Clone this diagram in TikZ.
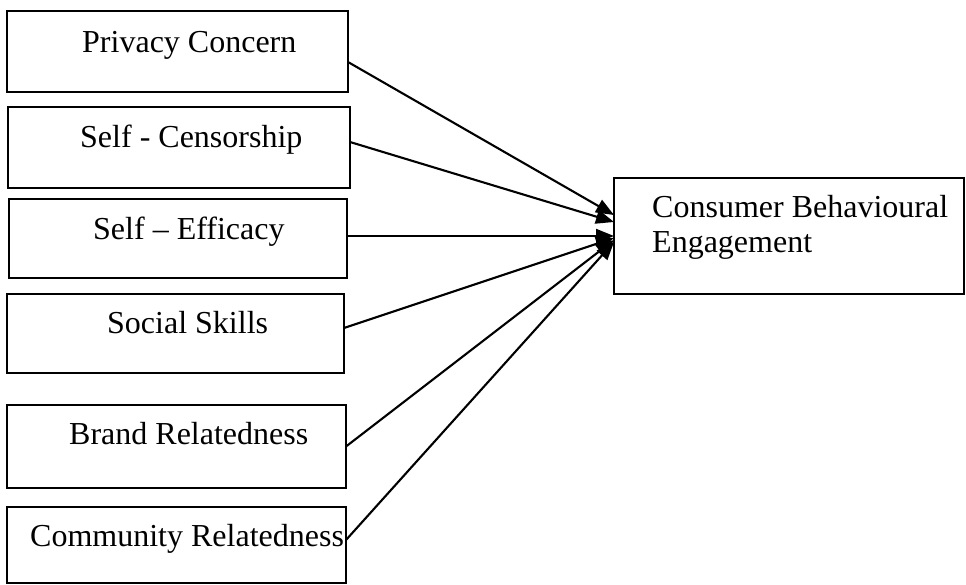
\documentclass[tikz,border=0pt]{standalone}
\usepackage{fontspec}
\setmainfont{Liberation Serif}
\usetikzlibrary{arrows.meta}
\begin{document}
\begin{tikzpicture}[x=1pt,y=-1pt,
  box/.style={draw=black, line width=2.8pt, fill=none, inner sep=0pt, outer sep=0pt},
  lbl/.style={anchor=base west, inner sep=0pt, font=\fontsize{32}{38}\selectfont},
  link/.style={line width=2.1pt, -{Triangle[length=18pt,width=14pt]}}]
\useasboundingbox (0,0) rectangle (966,585);

% factor boxes
\node[box, minimum width=341pt, minimum height=81pt] (b1) at (177.5,51.5) {};
\node[box, minimum width=342pt, minimum height=81pt] (b2) at (179,147.5) {};
\node[box, minimum width=338pt, minimum height=79pt] (b3) at (178,238.5) {};
\node[box, minimum width=337pt, minimum height=79pt] (b4) at (175.5,333.5) {};
\node[box, minimum width=339pt, minimum height=83pt] (b5) at (176.5,446.5) {};
\node[box, minimum width=339pt, minimum height=76pt] (b6) at (176.5,545) {};

% outcome box
\node[box, minimum width=350pt, minimum height=116pt] (t) at (789,236) {};

% labels
\node[lbl] (l1) at (82,53) {Privacy Concern};
\node[lbl] (l2) at (80,148) {Self - Censorship};
\node[lbl] (l3) at (93,240) {Self – Efficacy};
\node[lbl] (l4) at (107,333) {Social Skills};
\node[lbl] (l5) at (69,444) {Brand Relatedness};
\node[lbl] (l6) at (30,546) {Community Relatedness};
\node[lbl] (t1) at (652,218) {Consumer Behavioural};
\node[lbl] (t2) at (652,253) {Engagement};

% paths into the outcome
\draw[link] ([yshift=-10.5pt]b1.east) -- ([yshift=21pt]t.west);
\draw[link] ([yshift=5.5pt]b2.east) -- ([yshift=14pt]t.west);
\draw[link] ([yshift=2.5pt]b3.east) -- (t.west);
\draw[link] ([yshift=5.5pt]b4.east) -- ([yshift=-2pt]t.west);
\draw[link] (b5.east) -- ([yshift=-4pt]t.west);
\draw[link] ([yshift=5pt]b6.east) -- ([yshift=-6pt]t.west);
\end{tikzpicture}
\end{document}
